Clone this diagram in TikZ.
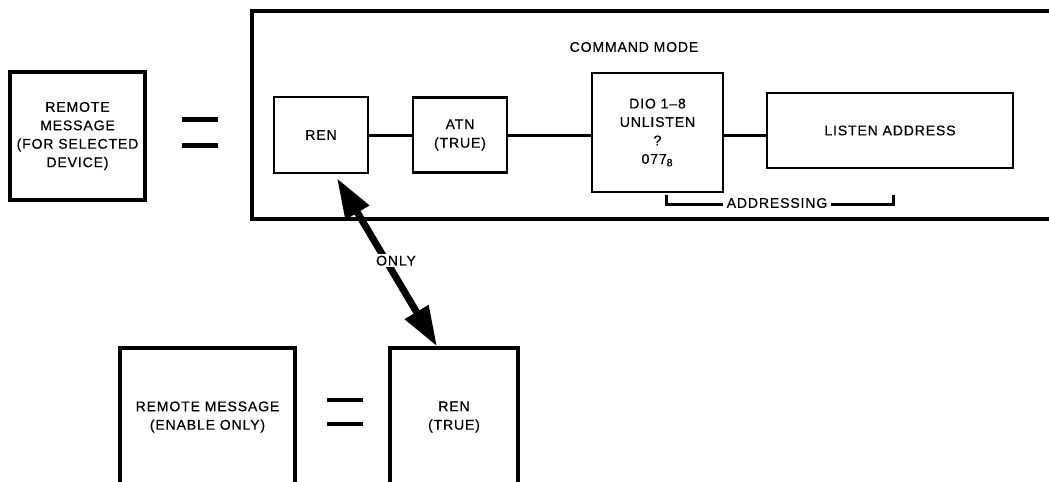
\documentclass[tikz,border=0pt]{standalone}
\usepackage{fontspec}
\setmainfont{Liberation Sans}[LetterSpace=6, FakeBold=0.5]
\usetikzlibrary{arrows.meta,positioning,calc}

\begin{document}
\begin{tikzpicture}[
    x=0.2mm, y=-0.2mm,
    block/.style={draw, line width=0.5mm, align=center, inner sep=0pt, font=\fontsize{8}{10.5}\selectfont},
    bigblock/.style={block, line width=0.65mm},
    label/.style={font=\fontsize{8}{10.5}\selectfont},
    link/.style={line width=0.6mm},
    eqbar/.style={line width=1mm},
    thinbar/.style={line width=0.75mm},
    bigarrow/.style={{Triangle[length=8mm,width=5.2mm]}-{Triangle[length=8mm,width=5.2mm]}, line width=1.4mm},
]

\useasboundingbox (0,0) rectangle (1049,481);
\clip (0,0) rectangle (1049,481);

% Remote message (selected device)
\node[bigblock, minimum width=27mm, minimum height=25.6mm] (remsel) at (77.5,136) {REMOTE\\MESSAGE\\(FOR SELECTED\\DEVICE)};

% Equals sign
\draw[eqbar] (182,119) -- (218,119);
\draw[eqbar] (182,145) -- (218,145);

% Command mode frame
\node[bigblock, minimum width=161.6mm, minimum height=41.6mm] (cmdmode) at (656,115) {};
\node[label] (cmdtitle) at (634,47) {COMMAND MODE};

% Command sequence
\node[block, minimum width=18.8mm, minimum height=15.2mm] (ren) at (321,135) {REN};
\node[block, minimum width=18.8mm, minimum height=15mm] (atn) at (460,135) {ATN\\(TRUE)};
\node[block, minimum width=26.2mm, minimum height=23.8mm] (dio) at (657.5,132.5) {DIO 1--8\\UNLISTEN\\?\\077\textsubscript{8}};
\node[block, minimum width=49.2mm, minimum height=15mm] (listen) at (890,130.5) {LISTEN ADDRESS};

\draw[link] (ren) -- (atn);
\draw[link] (atn.east) -- (atn.east -| dio.west);
\draw[link] (atn.east -| dio.east) -- (atn.east -| listen.west);

% Addressing bracket
\coordinate (addrl) at (666,195);
\coordinate (addrr) at (893,195);
\draw[link] (addrl) -- ++(0,9) -- ($(addrr)+(0,9)$) -- (addrr);
\node[label, fill=white, inner sep=2pt] (addr) at (777,203) {ADDRESSING};

% Remote message (enable only)
\node[bigblock, minimum width=35mm, minimum height=27.6mm] (remen) at (207.5,417) {REMOTE MESSAGE\\(ENABLE ONLY)};

% Equals sign
\draw[thinbar] (327,400) -- (363,400);
\draw[thinbar] (327,424) -- (363,424);

\node[bigblock, minimum width=25.6mm, minimum height=27.6mm] (rentrue) at (454,417) {REN\\(TRUE)};

% Only arrow
\draw[bigarrow] ([xshift=3.2mm, yshift=-0.8mm]ren.south) -- node[label, fill=white, pos=0.49, xshift=2mm, inner sep=1pt] (only) {ONLY} ([xshift=-3.4mm]rentrue.north);

\end{tikzpicture}
\end{document}
